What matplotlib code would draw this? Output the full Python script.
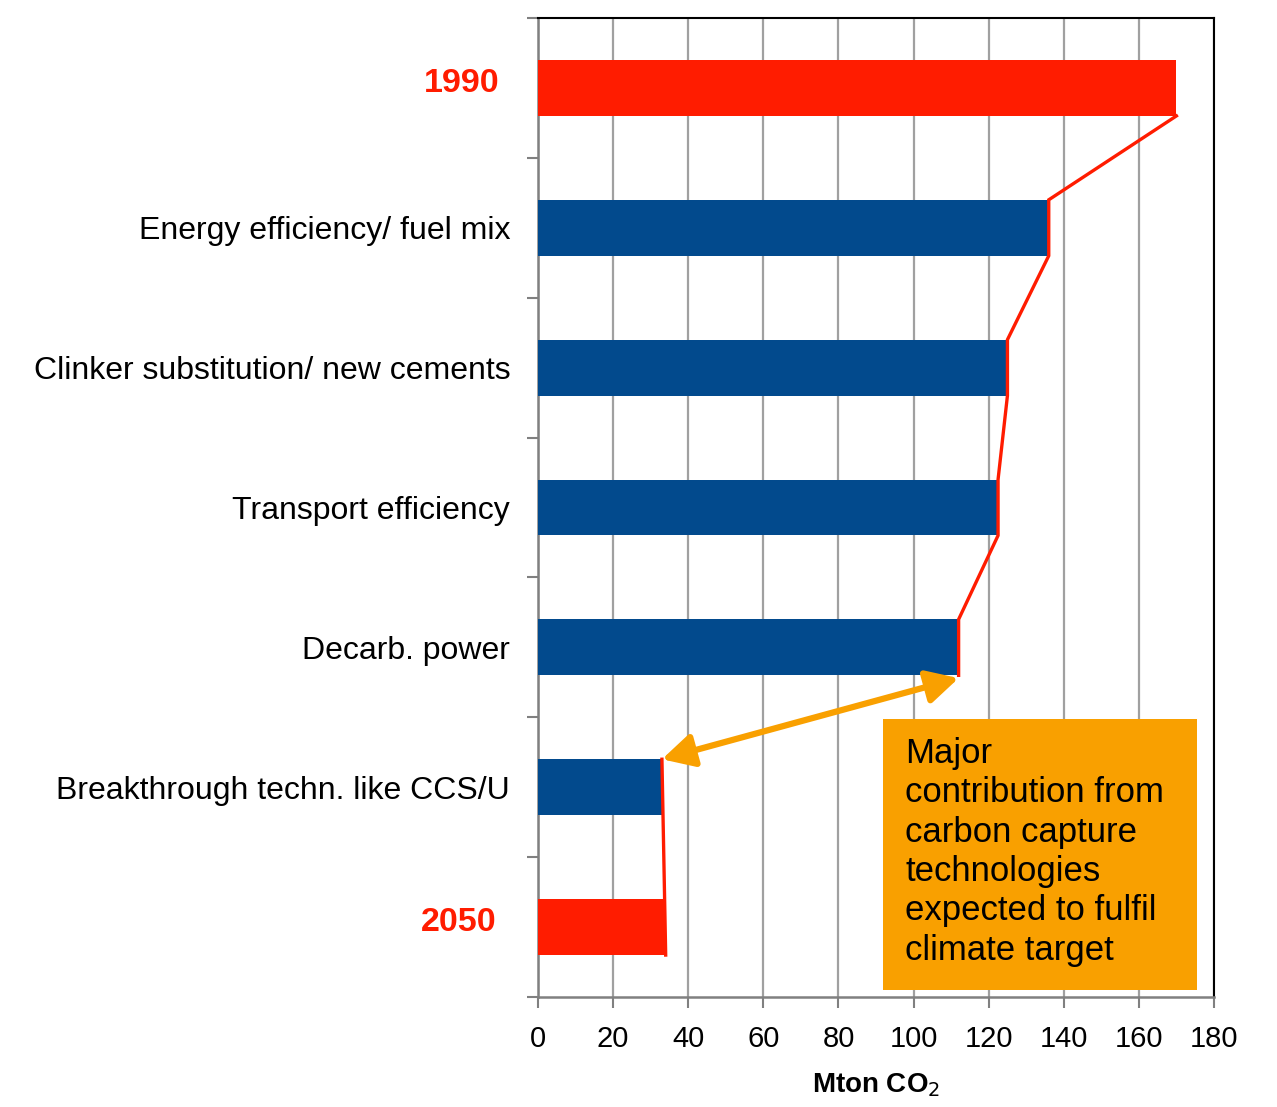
import matplotlib
matplotlib.use("Agg")
import matplotlib.pyplot as plt
from matplotlib.transforms import ScaledTranslation
from matplotlib.patches import FancyArrowPatch

categories = ["1990", "Energy efficiency/ fuel mix", "Clinker substitution/ new cements",
              "Transport efficiency", "Decarb. power", "Breakthrough techn. like CCS/U", "2050"]
values = [170, 136, 125, 122.5, 112, 33, 34]
kinds = ["total", "step", "step", "step", "step", "step", "total"]
xticks = [0, 20, 40, 60, 80, 100, 120, 140, 160, 180]
note = "Major\ncontribution from\ncarbon capture\ntechnologies\nexpected to fulfil\nclimate target"

RED = "#FF1C00"
BLUE = "#024A8D"
ORANGE = "#F9A000"

plt.rcParams['font.family'] = ['Liberation Sans', 'DejaVu Sans']
fig = plt.figure(figsize=(12.77, 11.07), dpi=100)
ax = fig.add_axes([538/1277, 1 - 997/1107, 676/1277, 979/1107])

h = 0.4
ypos = list(range(len(categories)))
colors = [RED if k == "total" else BLUE for k in kinds]
ax.barh(ypos, values, height=h, color=colors, zorder=3)
ax.set_xlim(0, 180)
ax.set_ylim(len(categories) - 0.5, -0.5)

# connecting red line through bar ends (1990 bottom -> ... -> decarb bottom)
lx, ly = [values[0]], [0 + h / 2]
for i in range(1, 5):
    lx += [values[i], values[i]]
    ly += [i - h / 2, i + h / 2]
ax.plot(lx, ly, color=RED, lw=2.4, zorder=4, solid_joinstyle="miter")
ax.plot([values[5], values[6]], [5 - h / 2, 6 + h / 2], color=RED, lw=2.4, zorder=4)

# orange double arrow
arr = FancyArrowPatch((values[4], 4 + h / 2 + 0.02), (values[5], 5 - h / 2),
                      arrowstyle="<|-|>,head_length=19,head_width=10", color=ORANGE,
                      lw=4.5, zorder=5, shrinkA=0, shrinkB=0)
ax.add_patch(arr)

# note box
box = plt.Rectangle((883/1277, 1 - 990/1107), (1197 - 883)/1277, (990 - 719)/1107,
                    transform=fig.transFigure, fc=ORANGE, ec="none", zorder=5)
fig.patches.append(box)
fig.text(905/1277, 1 - 737/1107, note, fontsize=25, va="top", ha="left",
         color="black", linespacing=1.245, zorder=7)

ax.set_xticks(xticks)
ax.set_xticklabels([str(x) for x in xticks], fontsize=21)
ax.set_yticks(ypos)
ax.set_yticklabels(categories, fontsize=23)
ax.set_yticks([i - 0.5 for i in range(len(categories) + 1)], minor=True)
ax.tick_params(axis="y", which="major", length=0, pad=20)
ax.tick_params(axis="y", which="minor", length=8, color="#808080", width=1.5)
ax.tick_params(axis="x", length=8, color="#808080", width=1.5, pad=12)
for lbl in ax.get_yticklabels():
    if lbl.get_text() in ("1990", "2050"):
        lbl.set_color(RED)
        lbl.set_fontweight("bold")
        lbl.set_fontsize(24.5)
        shift = -11 if lbl.get_text() == "1990" else -14
        lbl.set_transform(lbl.get_transform() + ScaledTranslation(shift/100, 8/100, fig.dpi_scale_trans))

ax.xaxis.grid(True, color="#A0A0A0", lw=1.6, zorder=0)
ax.set_axisbelow(True)
for s in ["left", "bottom"]:
    ax.spines[s].set_color("#808080")
    ax.spines[s].set_linewidth(1.8)
for s in ["top", "right"]:
    ax.spines[s].set_color("black")
    ax.spines[s].set_linewidth(1.5)

ax.set_xlabel("Mton CO$_2$", fontsize=20, fontweight="bold", labelpad=13)

fig.savefig("out.png", dpi=100)
